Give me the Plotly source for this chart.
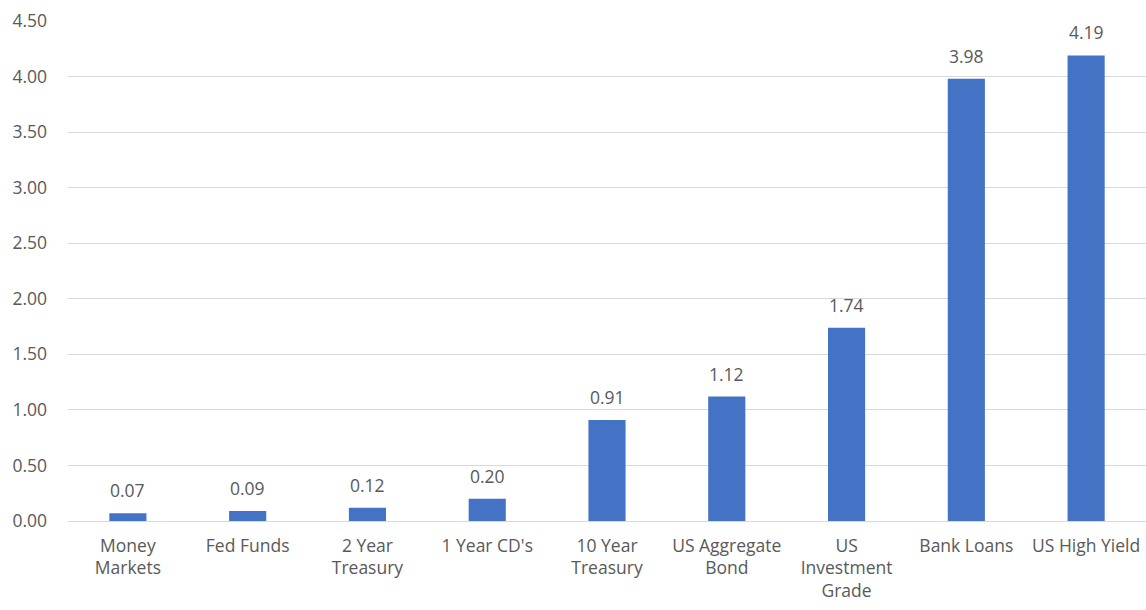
import plotly.graph_objects as go

categories = ["Money<br>Markets", "Fed Funds", "2 Year<br>Treasury", "1 Year CD's",
              "10 Year<br>Treasury", "US Aggregate<br>Bond", "US<br>Investment<br>Grade",
              "Bank Loans", "US High Yield"]
yields = [0.07, 0.09, 0.12, 0.20, 0.91, 1.12, 1.74, 3.98, 4.19]
tick_vals = [0, 0.5, 1.0, 1.5, 2.0, 2.5, 3.0, 3.5, 4.0, 4.5]
tick_text = ["0.00", "0.50", "1.00", "1.50", "2.00", "2.50", "3.00", "3.50", "4.00", "4.50"]

font_family = "Open Sans, Noto Sans, sans-serif"
text_color = "#595959"
fsize = 17.5

fig = go.Figure(go.Bar(
    x=categories, y=yields,
    marker=dict(color="#4472C4", line=dict(width=0)),
    hoverinfo="x+y",
))

for c, v in zip(categories, yields):
    fig.add_annotation(x=c, y=v, text=f"{v:.2f}", showarrow=False,
                       yanchor="bottom", yshift=9,
                       font=dict(family=font_family, size=fsize, color=text_color))

fig.update_layout(
    width=1146, height=610,
    margin=dict(l=68, r=0, t=21, b=89),
    paper_bgcolor="white", plot_bgcolor="white",
    bargap=0.69,
    showlegend=False,
    font=dict(family=font_family, size=fsize, color=text_color),
    xaxis=dict(showgrid=False, showline=False, ticks="", ticklabelstandoff=12,
               tickfont=dict(family=font_family, size=fsize, color=text_color)),
    yaxis=dict(range=[0, 4.5], tickvals=tick_vals, ticktext=tick_text,
               showgrid=True, gridcolor="#D9D9D9", gridwidth=1,
               zeroline=True, zerolinecolor="#D9D9D9", zerolinewidth=1,
               showline=False, ticks="", ticklabelstandoff=20,
               tickfont=dict(family=font_family, size=fsize, color=text_color)),
)

fig.write_html("out.html")
